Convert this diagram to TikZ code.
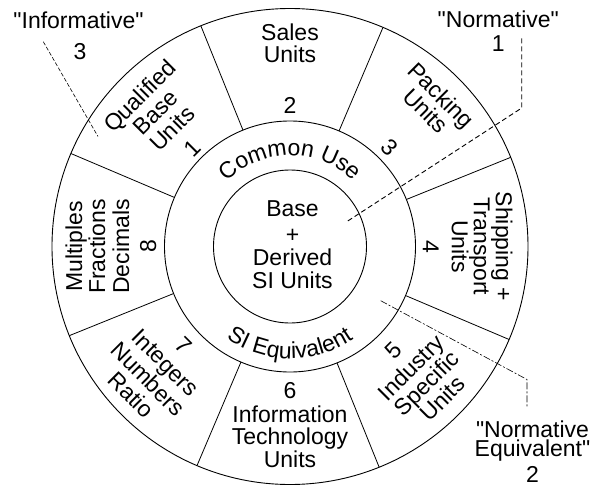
\documentclass[tikz,border=0pt]{standalone}
\usepackage{fontspec}
\setmainfont{Liberation Sans}
\usetikzlibrary{decorations.text}
\begin{document}
\begin{tikzpicture}[x=1pt,y=1pt,
  lbl/.style={font=\fontsize{23}{24}\selectfont, inner sep=0pt, text height=16.5pt, text depth=0pt},
  ring/.style={circle, draw, line width=0.9pt, inner sep=0pt, outer sep=0pt},
  spoke/.style={line width=0.8pt},
  infline/.style={line width=0.6pt, dash pattern=on 4pt off 2pt},
  normline/.style={line width=0.9pt, dash pattern=on 5pt off 3pt},
  eqline/.style={line width=0.6pt, dash pattern=on 7pt off 2pt on 2pt off 2pt}]
\useasboundingbox (-290,-238.5) rectangle (302,246.5);
% rings
\node[ring, minimum size=476pt] (outer) at (0,0) {};
\node[ring, minimum size=251pt] (mid) at (0,0) {};
\node[ring, minimum size=153pt] (inner) at (0,0) {};
% spokes
\foreach \a in {22.5,67.5,...,337.5}
  \draw[spoke] (mid.\a) -- (outer.\a);
% center text
\node[lbl] (cBase) at (2.5,38.5) {Base};
\node[lbl] (cPlus) at (2.5,12.5) {+};
\node[lbl] (cDer) at (2.5,-11) {Derived};
\node[lbl] (cSI) at (2.5,-34) {SI Units};
% curved ring text
\path[decorate, decoration={text along path, text align=center,
  text={|\fontsize{23}{24}\selectfont|Common Use}}]
  (170:91) arc[start angle=170, end angle=10, radius=91];
\path[decorate, decoration={text along path, text align=center,
  text={|\fontsize{23}{24}\selectfont|SI Equivalent}}]
  (200:112) arc[start angle=200, end angle=340, radius=112];
% Sales (90)
\node[lbl] (s2a) at (90:214) {Sales};
\node[lbl] (s2b) at (90:192) {Units};
\node[lbl] (s2n) at (90:141) {2};
% Packing (45)
\node[lbl, rotate=-45] (s3a) at (45:214) {Packing};
\node[lbl, rotate=-45] (s3b) at (45:192) {Units};
\node[lbl, rotate=-45] (s3n) at (45:141) {3};
% Shipping (0)
\node[lbl, rotate=-90] (s4a) at (0:214) {Shipping +};
\node[lbl, rotate=-90] (s4b) at (0:192) {Transport};
\node[lbl, rotate=-90] (s4c) at (0:170) {Units};
\node[lbl, rotate=-90] (s4n) at (0:141) {4};
% Qualified (135)
\node[lbl, rotate=45] (s1a) at (135:213) {Qualified};
\node[lbl, rotate=45] (s1b) at (135:190) {Base};
\node[lbl, rotate=45] (s1c) at (135:167) {Units};
\node[lbl, rotate=45] (s1n) at (135:139) {1};
% Multiples (180)
\node[lbl, rotate=90] (s8a) at (180:216) {Multiples};
\node[lbl, rotate=90] (s8b) at (180:193) {Fractions};
\node[lbl, rotate=90] (s8c) at (180:169) {Decimals};
\node[lbl, rotate=90] (s8n) at (180:142) {8};
% Industry (-45)
\node[lbl, rotate=45] (s5n) at (-45:146) {5};
\node[lbl, rotate=45] (s5a) at (-45:171) {Industry};
\node[lbl, rotate=45] (s5b) at (-45:193) {Specific};
\node[lbl, rotate=45] (s5c) at (-45:215) {Units};
% Information (-90)
\node[lbl] (s6n) at (-90:143.5) {6};
\node[lbl] (s6a) at (-90:168) {Information};
\node[lbl] (s6b) at (-90:190) {Technology};
\node[lbl] (s6c) at (-90:212.5) {Units};
% Integers (-135)
\node[lbl, rotate=-45] (s7n) at (-137:145) {7};
\node[lbl, rotate=-45] (s7a) at (-137:170) {Integers};
\node[lbl, rotate=-45] (s7b) at (-137:194) {Numbers};
\node[lbl, rotate=-45] (s7c) at (-137:217) {Ratio};
% annotations
\node[lbl] (infT) at (-211.5,226.5) {\textquotedbl Informative\textquotedbl};
\node[lbl] (infN) at (-210,194.8) {3};
\node[lbl] (norT) at (208.3,227.5) {\textquotedbl Normative\textquotedbl};
\node[lbl] (norN) at (208.3,203.2) {1};
\node[lbl] (eqT1) at (242.5,-182.5) {\textquotedbl Normative};
\node[lbl] (eqT2) at (242.5,-201.5) {Equivalent\textquotedbl};
\node[lbl] (eqN) at (242.5,-228) {2};
% leader lines
\coordinate (infA) at (-246.7,204.8);
\coordinate (infB) at (-192,110);
\draw[infline] (infA) -- (infB);
\coordinate (norA) at (231.7,208.2);
\coordinate (norB) at (231.7,138.5);
\coordinate (norC) at (56.7,24.8);
\draw[normline] (norA) -- (norB) -- (norC);
\coordinate (eqA) at (90.7,-54.2);
\coordinate (eqB) at (237,-133);
\coordinate (eqC) at (237,-160.2);
\draw[eqline] (eqA) -- (eqB) -- (eqC);
\end{tikzpicture}
\end{document}
